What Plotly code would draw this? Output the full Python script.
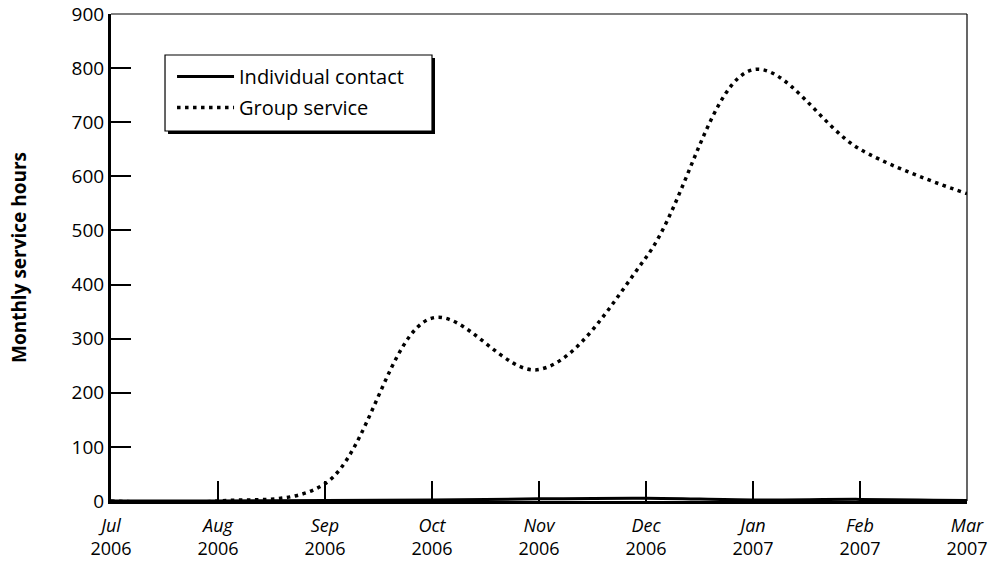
import plotly.graph_objects as go

months = ["Jul", "Aug", "Sep", "Oct", "Nov", "Dec", "Jan", "Feb", "Mar"]
years = ["2006", "2006", "2006", "2006", "2006", "2006", "2007", "2007", "2007"]
group_service = [0, 0, 32, 338, 243, 450, 797, 650, 568]
individual_contact = [0, 0, 1, 2, 4, 5, 2, 3, 1]
y_ticks = [0, 100, 200, 300, 400, 500, 600, 700, 800, 900]

FONT = "Open Sans, Noto Sans, sans-serif"
FS = 19

fig = go.Figure()
fig.add_trace(go.Scatter(
    x=months, y=individual_contact, name="Individual contact", mode="lines",
    legendgroup="a",
    line=dict(color="black", width=3, shape="spline"),
))
fig.add_trace(go.Scatter(
    x=months, y=group_service, name="Group service", mode="lines",
    legendgroup="b",
    line=dict(color="black", width=3.5, dash="3.5px,4.5px", shape="spline"),
))

fig.update_layout(
    width=991, height=562,
    margin=dict(l=111, r=24, t=14, b=61, autoexpand=False),
    paper_bgcolor="white", plot_bgcolor="white",
    font=dict(family=FONT, size=FS, color="black"),
    showlegend=True,
    legend=dict(
        x=0.0713, y=0.9117, xanchor="left", yanchor="top",
        bgcolor="rgba(0,0,0,0)", borderwidth=0,
        font=dict(size=20), tracegroupgap=2, itemwidth=57,
    ),
    xaxis=dict(
        type="category", range=[0, len(months) - 1], automargin=False,
        tickvals=months,
        ticktext=[f"<i>{m}</i><br>{y}" for m, y in zip(months, years)],
        showline=True, linecolor="black", linewidth=3,
        ticks="inside", ticklen=20, tickwidth=1.5, tickcolor="black",
        showgrid=False, zeroline=False, ticklabelstandoff=6,
        ticklabeloverflow="allow",
        tickfont=dict(size=18),
    ),
    yaxis=dict(
        range=[0, 900], tickvals=y_ticks, automargin=False,
        showline=True, linecolor="black", linewidth=3,
        ticks="inside", ticklen=20, tickwidth=1.5, tickcolor="black",
        showgrid=False, zeroline=False, ticklabelstandoff=0,
        ticklabeloverflow="allow",
        tickfont=dict(size=FS),
        title=dict(text="<b>Monthly service hours</b>", font=dict(size=FS), standoff=40),
    ),
)

# thin top and right frame
fig.add_shape(type="line", xref="x domain", yref="y domain", x0=0, x1=1, y0=1, y1=1,
              line=dict(color="black", width=1.2))
fig.add_shape(type="line", xref="x domain", yref="y domain", x0=1, x1=1, y0=0, y1=1,
              line=dict(color="black", width=1.2))

# legend box with drop shadow
bx0, bx1, by0, by1 = 0.0631, 0.375, 0.7598, 0.9158
dx, dy = 3 / 856, 3 / 487
fig.add_shape(type="rect", xref="paper", yref="paper",
              x0=bx0 + dx, x1=bx1 + dx, y0=by0 - dy, y1=by1 - dy,
              fillcolor="black", line=dict(width=0), layer="above")
fig.add_shape(type="rect", xref="paper", yref="paper",
              x0=bx0, x1=bx1, y0=by0, y1=by1,
              fillcolor="white", line=dict(color="black", width=1.2), layer="above")

fig.write_html("out.html", config={"displayModeBar": False},
               post_script="document.body.style.margin='0';")
